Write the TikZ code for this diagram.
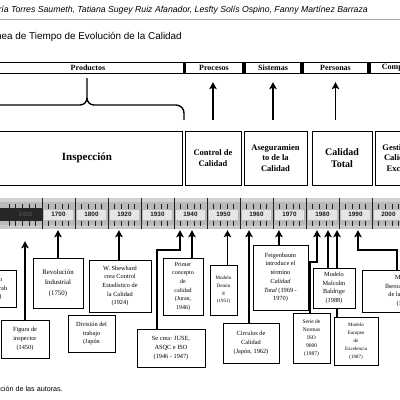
\documentclass[tikz,border=0pt]{standalone}
\usepackage{fontspec}
\setmainfont{Liberation Serif}
\newfontfamily\arial{Liberation Sans}
\usetikzlibrary{arrows.meta,backgrounds}

\tikzset{
  cat/.style={draw, line width=1.3pt, fill=white, minimum height=11, inner sep=0pt,
    font=\fontsize{8}{9}\selectfont\bfseries},
  etapa/.style={draw, line width=1pt, fill=white, align=center, inner sep=1pt,
    minimum height=54, font=\fontsize{8.5}{10.5}\selectfont\bfseries},
  hito/.style={draw, line width=1pt, fill=white, align=center, inner sep=1pt,
    font=\fontsize{6.3}{8.7}\selectfont},
  anio/.style={fill=gray!20, minimum width=29, minimum height=10, inner sep=0pt,
    text=gray!20!black, font=\arial\bfseries\fontsize{6.3}{7}\selectfont},
  flecha/.style={line width=1.8pt, -{Stealth[length=7pt,width=7.5pt,inset=1.5pt]}},
  llave/.style={line width=1.4pt},
}

\begin{document}
\begin{tikzpicture}[x=1pt, y=-1pt]
    \useasboundingbox (0,0) rectangle (400,400);
    \clip (0,0) rectangle (400,400);

    % encabezado
    \node[anchor=base east, inner sep=0pt, font=\arial\itshape\fontsize{8.7}{10}\selectfont] (autores)
        at (368,12.5) {María Torres Saumeth, Tatiana Sugey Ruiz Afanador, Lesfty Solís Ospino, Fanny Martínez Barraza};
    \draw[gray!70, line width=0.8pt] (0,19.5) -- (400,19.5);
    \node[anchor=base east, inner sep=0pt, font=\arial\fontsize{9.9}{11}\selectfont] (titulo)
        at (182,39.5) {Línea de Tiempo de Evolución de la Calidad};

    % categorías
    \node[cat, minimum width=192] (prod) at (88,68) {Productos};
    \node[cat, minimum width=58] (proc) at (214,68) {Procesos};
    \node[cat, minimum width=56] (sist) at (273,68) {Sistemas};
    \node[cat, minimum width=65] (pers) at (335.5,68) {Personas};
    \node[cat, minimum width=77] (comp) at (408.5,68) {Competitividad};

    % llave
    \draw[llave] (-20,120) -- (-20,113) to[out=-90,in=180] (-12,105) -- (80,105)
        to[out=0,in=-90] (87,98) -- (87,78);
    \draw[llave] (87,98) to[out=-90,in=180] (94,105) -- (176,105)
        to[out=0,in=90] (184,113) -- (184,120);

    % etapas
    \node[etapa, minimum width=190, font=\fontsize{11}{13}\selectfont\bfseries] (insp) at (87,158) {Inspección};
    \node[etapa, minimum width=56] (ctrl) at (213,158) {Control de\\Calidad};
    \node[etapa, minimum width=63] (aseg) at (275.5,158) {Aseguramien\\to de la\\Calidad};
    \node[etapa, minimum width=60, font=\fontsize{10}{12}\selectfont\bfseries] (ctot) at (342,158) {Calidad\\Total};
    \node[etapa, minimum width=62] (gest) at (406,158) {Gestión de la\\Calidad y la\\Excelencia};

    \draw[flecha, shorten <=11pt, shorten >=8pt] (ctrl.north) -- (ctrl.north |- proc.south);
    \draw[flecha, shorten <=11pt, shorten >=8pt] (aseg.north -| sist.south) -- (sist.south);
    \draw[flecha, shorten <=11pt, shorten >=8pt] (ctot.north -| pers.south) -- (pers.south);

    % línea de tiempo
    \node[fill=gray!55, minimum width=420, minimum height=31, inner sep=0pt] (barra) at (200,213.5) {};
    \fill[gray!35] (-10,198) rectangle (410,202);
    \fill[gray!42] (-10,225) rectangle (410,229);
    \foreach \t in {0,...,62}
        \draw[gray!25!black, line width=0.6pt] (9+6.6*\t,203.5) -- (9+6.6*\t,208.5)
            (9+6.6*\t,220.5) -- (9+6.6*\t,225.5);
    \fill[gray!30!black] (-10,207.5) rectangle (42,221);
    \node[anio, fill=none, text=gray!60!black] (a0) at (25.5,214.5) {1450};
    \foreach \a [count=\i] in {1700,1800,1920,1930,1940,1950,1960,1970,1980,1990,2000}
        \node[anio] (a\i) at (25.5+33*\i,214.5) {\a};
    \foreach \i in {1,...,12}
        \draw[gray!25!black, line width=0.9pt] (9+33*\i,198) -- (9+33*\i,229);

    % hitos
    \node[hito, minimum width=46, minimum height=37] (cod) at (-7,288.5) {Código\\Hammurab\\(1752)};
    \node[hito, minimum width=50, minimum height=50, font=\fontsize{6.8}{10.5}\selectfont] (rev) at (58,283) {Revolución\\Industrial\\(1750)};
    \node[hito, minimum width=62, minimum height=52] (shew) at (120,286) {W. Shewhard\\crea Control\\Estadístico de\\la Calidad\\(1924)};
    \node[hito, minimum width=48, minimum height=38] (fig) at (25,339) {Figura de\\inspector\\(1450)};
    \node[hito, minimum width=47, minimum height=37] (div) at (91.5,333.5) {División del\\trabajo\\(Japón};
    \node[hito, minimum width=40, minimum height=57, font=\fontsize{6}{8.6}\selectfont] (juran) at (183,286.5) {Primer\\concepto\\de\\calidad\\(Juran,\\1946)};
    \node[hito, minimum width=68, minimum height=38] (jus) at (171,348) {Se crea: JUSE,\\ASQC e ISO\\(1946 - 1947)};
    \node[hito, minimum width=27, minimum height=50, font=\fontsize{5}{7.5}\selectfont] (dem) at (223.5,290) {Modelo\\Demin\\g\\(1951)};
    \node[hito, minimum width=56, minimum height=40] (circ) at (251,343) {Círculos de\\Calidad\\(Japón, 1962)};
    \node[hito, minimum width=55, minimum height=65] (feig) at (280.5,277.5) {Feigenbaum\\introduce el\\término\\\textit{Calidad}\\\textit{Total} (1969 -\\1970)};
    \node[hito, minimum width=42, minimum height=40] (malc) at (334,288) {Modelo\\Malcolm\\Baldrige\\(1988)};
    \node[hito, minimum width=37, minimum height=50, font=\fontsize{5.5}{8}\selectfont] (iso) at (311.5,338) {Serie de\\Normas\\ISO\\9000\\(1987)};
    \node[hito, minimum width=44, minimum height=48, font=\fontsize{5}{8}\selectfont] (eur) at (356,341) {Modelo\\Europeo\\de\\Excelencia\\(1987)};
    \node[hito, minimum width=86, minimum height=42] (ibero) at (405,291) {Modelo\\Iberoamericano\\de la Calidad\\(1990)};

    % flechas
    \coordinate (j1) at (157,250);
    \coordinate (j2) at (180,250);
    \coordinate (s1) at (310,262);
    \coordinate (s2) at (317,262);
    \coordinate (i1) at (358,250);
    \coordinate (i2) at (397,250);
    \begin{scope}[on background layer]
        \draw[flecha, shorten >=1pt] (rev.north) -- (rev.north |- barra.south);
        \draw[flecha, shorten >=1pt] ([xshift=-1]shew.north) -- ([xshift=-1]shew.north |- barra.south);
        \draw[flecha, shorten >=12pt] (fig.north) -- (fig.north |- barra.south);
        \draw[flecha, shorten >=1pt] ([xshift=9]juran.north) -- ([xshift=9]juran.north |- barra.south);
        \draw[flecha, shorten >=1pt] (jus.north -| j1) -- (j1) -- (j2) -- (j2 |- barra.south);
        \draw[flecha, shorten >=1pt] ([xshift=4]dem.north) -- ([xshift=4]dem.north |- barra.south);
        \draw[flecha, shorten >=1pt] ([xshift=-2]circ.north) -- ([xshift=-2]circ.north |- barra.south);
        \draw[flecha, shorten >=1pt] ([xshift=-1.5]feig.north) -- ([xshift=-1.5]feig.north |- barra.south);
        \draw[flecha, shorten >=1pt] ([xshift=-6]malc.north) -- ([xshift=-6]malc.north |- barra.south);
        \draw[flecha, shorten >=1pt] (iso.north -| s1) -- (s1) -- (s2) -- (s2 |- barra.south);
        \draw[flecha, shorten >=1pt] ([xshift=-19]eur.north) -- ([xshift=-19]eur.north |- barra.south);
        \draw[flecha, shorten >=1pt] (ibero.north -| i2) -- (i2) -- (i1) -- (i1 |- barra.south);
    \end{scope}

    % fuente
    \node[anchor=base east, inner sep=0pt, font=\arial\fontsize{7.2}{8.5}\selectfont] (fuente)
        at (63,391) {Fuente: Elaboración de las autoras.};
\end{tikzpicture}
\end{document}
